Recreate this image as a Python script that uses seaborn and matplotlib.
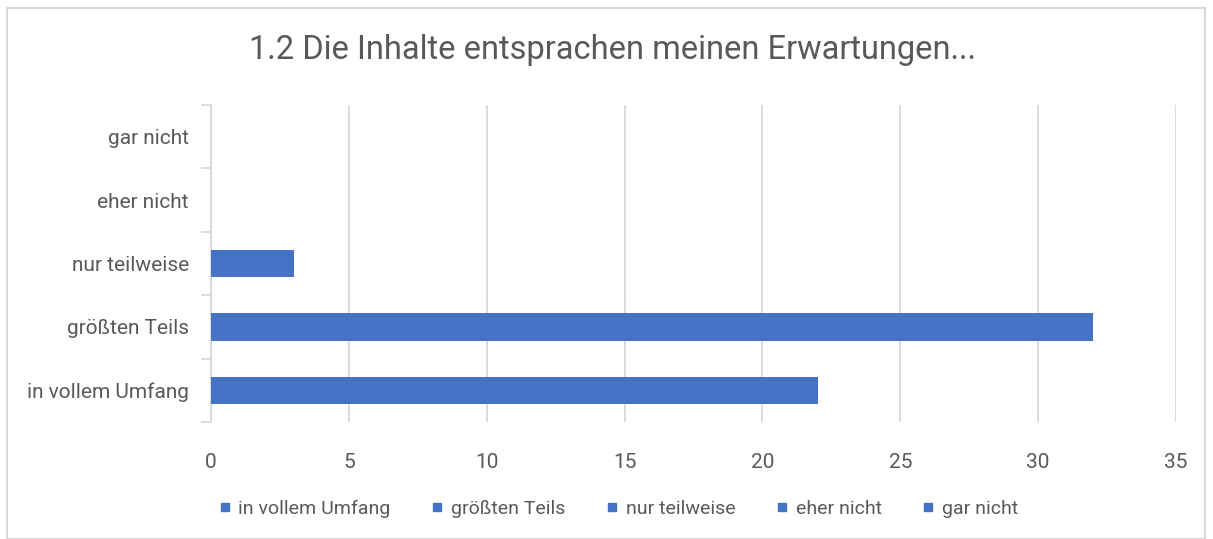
import matplotlib
matplotlib.use("Agg")
import matplotlib.pyplot as plt
import seaborn as sns
import pandas as pd
from matplotlib.patches import Rectangle
from matplotlib.lines import Line2D

categories = ["gar nicht", "eher nicht", "nur teilweise", "größten Teils", "in vollem Umfang"]
values = [0, 0, 3, 32, 22]
legend_order = ["in vollem Umfang", "größten Teils", "nur teilweise", "eher nicht", "gar nicht"]
x_ticks = [0, 5, 10, 15, 20, 25, 30, 35]
title = "1.2 Die Inhalte entsprachen meinen Erwartungen..."

sns.set_style("white")
plt.rcParams['font.family'] = ['Roboto', 'DejaVu Sans']

bar_color = "#4472C4"
text_color = "#595959"
grid_color = "#D9D9D9"

df = pd.DataFrame({"cat": categories, "val": values})

fig = plt.figure(figsize=(12.13, 5.39), dpi=100)
ax = fig.add_axes([211/1213, 1-422/539, (1176-211)/1213, (422-105)/539])

sns.barplot(data=df, y="cat", x="val", order=categories, color=bar_color,
            width=0.43, linewidth=0, saturation=1, ax=ax, zorder=3)

ax.set_xlim(0, 35)
ax.set_ylim(len(categories)-0.5, -0.5)
ax.set_xticks(x_ticks)
ax.set_xticklabels([str(t) for t in x_ticks])
ax.set_xlabel("")
ax.set_ylabel("")
ax.grid(axis="x", color=grid_color, linewidth=1.3, zorder=0)
ax.grid(axis="y", visible=False)
for s in ["top", "right", "bottom"]:
    ax.spines[s].set_visible(False)
ax.spines["left"].set_color(grid_color)
ax.spines["left"].set_linewidth(1.3)

ax.tick_params(axis="x", length=0, pad=22, labelsize=15, labelcolor=text_color)
ax.tick_params(axis="y", which="major", left=False, length=0, pad=16, labelsize=15, labelcolor=text_color)
ax.set_yticks([i - 0.5 for i in range(len(categories)+1)], minor=True)
ax.tick_params(axis="y", which="minor", left=True, length=7, width=1.3, color=grid_color)

fig.text(0.505, 1-50/539, title, ha="center", va="center", fontsize=23.5, color=text_color)

handles = [Line2D([0], [0], marker="s", linestyle="", markersize=6, markerfacecolor=bar_color,
                  markeredgecolor=bar_color) for _ in legend_order]
fig.legend(handles, legend_order, loc="center", bbox_to_anchor=(0.509, 1-509/539), ncol=5,
           frameon=False, fontsize=14, labelcolor=text_color, handletextpad=0.3,
           columnspacing=2.0, handlelength=0.8)

fig.patches.append(Rectangle((7/1213, 0), (1205-7)/1213, 1-8/539, transform=fig.transFigure,
                             fill=False, edgecolor="#D9D9D9", linewidth=1.5))

fig.savefig("out.png", dpi=100)
